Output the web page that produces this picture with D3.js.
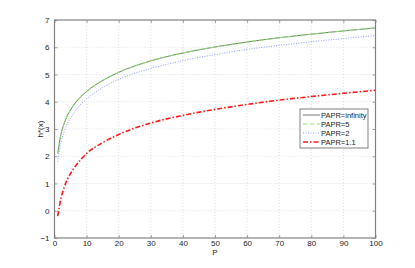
<!DOCTYPE html>
<html>
<head>
<meta charset="utf-8">
<script src="https://cdn.jsdelivr.net/npm/d3@7"></script>
<style>
  html, body { margin: 0; padding: 0; background: #fff; }
  svg { display: block; font-family: "Liberation Sans", Arial, sans-serif; }
  .grid line { stroke: #c8c8c8; stroke-dasharray: 1,2; stroke-width: 0.6; }
  .tick text { font-size: 8px; fill: #222; }
</style>
</head>
<body>
<div id="chart"></div>
<script>
// valori
const powerP = [1, 2, 3, 4, 5, 6, 8, 10, 15, 20, 30, 40, 50, 60, 70, 80, 90, 100];
const hInf  = [2.1, 2.8, 3.2, 3.5, 3.7, 3.88, 4.16, 4.38, 4.78, 5.08, 5.5, 5.79, 6.01, 6.19, 6.35, 6.48, 6.6, 6.71];
const hPapr5 = hInf.slice();
const hPapr2 = [1.8, 2.5, 2.9, 3.2, 3.4, 3.58, 3.88, 4.1, 4.52, 4.82, 5.22, 5.51, 5.73, 5.92, 6.07, 6.2, 6.32, 6.43];
const hPapr11 = [-0.2, 0.45, 0.85, 1.15, 1.37, 1.55, 1.85, 2.1, 2.5, 2.8, 3.22, 3.5, 3.72, 3.9, 4.06, 4.19, 4.31, 4.42];
const xTicks = [0, 10, 20, 30, 40, 50, 60, 70, 80, 90, 100];
const yTicks = [-1, 0, 1, 2, 3, 4, 5, 6, 7];

const series = [
  { name: "PAPR=infinity", values: hInf,    color: "#555555", dash: null,      width: 0.8 },
  { name: "PAPR=5",        values: hPapr5,  color: "#86e86a", dash: "4,3",     width: 1.1 },
  { name: "PAPR=2",        values: hPapr2,  color: "#8c9cff", dash: "1,1.5",   width: 1 },
  { name: "PAPR=1.1",      values: hPapr11, color: "#ff1a1a", dash: "5,2,1.5,2", width: 1.6 }
];

const W = 415, H = 268;
const m = { left: 54.5, right: 39.5, top: 20, bottom: 30 };
const iw = W - m.left - m.right, ih = H - m.top - m.bottom;

const svg = d3.select("#chart").append("svg").attr("width", W).attr("height", H);
const g = svg.append("g").attr("transform", `translate(${m.left},${m.top})`);

const x = d3.scaleLinear().domain([0, 100]).range([0, iw]);
const y = d3.scaleLinear().domain([-1, 7]).range([ih, 0]);

// griglia
const grid = g.append("g").attr("class", "grid");
grid.selectAll(".gx").data(xTicks.slice(1, -1)).enter().append("line")
  .attr("x1", d => x(d)).attr("x2", d => x(d)).attr("y1", 0).attr("y2", ih);
grid.selectAll(".gy").data(yTicks.slice(1, -1)).enter().append("line")
  .attr("y1", d => y(d)).attr("y2", d => y(d)).attr("x1", 0).attr("x2", iw);

// assi
const fmt = d => d < 0 ? "\u2212" + Math.abs(d) : d;
const axStyle = sel => {
  sel.select(".domain").remove();
  sel.selectAll(".tick line").attr("stroke", "#666").attr("stroke-width", 0.6);
};
g.append("g").attr("transform", `translate(0,${ih})`)
  .call(d3.axisBottom(x).tickValues(xTicks).tickSize(-3).tickPadding(2).tickFormat(fmt)).call(axStyle);
g.append("g")
  .call(d3.axisLeft(y).tickValues(yTicks).tickSize(-3).tickPadding(5).tickFormat(fmt)).call(axStyle);
g.append("g")
  .call(d3.axisTop(x).tickValues(xTicks).tickSize(-3).tickFormat("")).call(axStyle);
g.append("g").attr("transform", `translate(${iw},0)`)
  .call(d3.axisRight(y).tickValues(yTicks).tickSize(-3).tickFormat("")).call(axStyle);

g.append("rect").attr("width", iw).attr("height", ih)
  .attr("fill", "none").attr("stroke", "#808080").attr("stroke-width", 1.2);

// curve
const line = d3.line()
  .x((d, i) => x(powerP[i]))
  .y(d => y(d))
  .curve(d3.curveMonotoneX);

series.forEach(s => {
  g.append("path").datum(s.values)
    .attr("d", line)
    .attr("fill", "none")
    .attr("stroke", s.color)
    .attr("stroke-width", s.width)
    .attr("stroke-dasharray", s.dash);
});

// etichette assi
svg.append("text").attr("x", m.left + iw / 2).attr("y", 255)
  .attr("text-anchor", "middle").attr("font-size", 8).attr("fill", "#222").text("P");
svg.append("text").attr("transform", `translate(43,${m.top + ih / 2}) rotate(-90)`)
  .attr("text-anchor", "middle").attr("font-size", 8).attr("fill", "#222").text("h*(x)");

// legenda
const lg = svg.append("g").attr("transform", "translate(300,109)");
lg.append("rect").attr("width", 68).attr("height", 39)
  .attr("fill", "#fff").attr("stroke", "#808080").attr("stroke-width", 1);
series.forEach((s, i) => {
  const yy = 6 + i * 9;
  lg.append("line").attr("x1", 3).attr("x2", 20).attr("y1", yy).attr("y2", yy)
    .attr("stroke", s.color).attr("stroke-width", s.width).attr("stroke-dasharray", s.dash);
  lg.append("text").attr("x", 21).attr("y", yy + 2.7)
    .attr("font-size", 7.5).attr("fill", "#222").text(s.name);
});
</script>
</body>
</html>
